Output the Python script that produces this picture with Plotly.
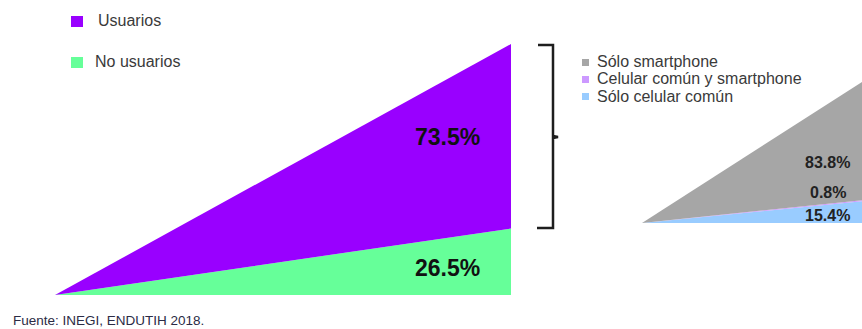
import plotly.graph_objects as go

W, H = 862, 329

# Usuarios de Internet (población de 6 años o más)
grupos = ["No usuarios", "Usuarios"]
pct_grupos = [26.5, 73.5]
colores_grupos = ["#66ff99", "#9900ff"]

# Tipo de teléfono celular entre los usuarios
tipos = ["Sólo celular común", "Celular común y smartphone", "Sólo smartphone"]
pct_tipos = [15.4, 0.8, 83.8]
colores_tipos = ["#99ccff", "#cc99ff", "#a6a6a6"]

fuente = "Fuente: INEGI, ENDUTIH 2018."

FONT = "Liberation Sans, Arial, Helvetica, sans-serif"


def px(x):
    return x / W


def py(y):
    return 1 - y / H


fig = go.Figure()

# Triángulo grande: áreas apiladas que crecen de 0 al porcentaje final
for nombre, v, c in zip(grupos, pct_grupos, colores_grupos):
    fig.add_trace(go.Scatter(
        x=[0, 1], y=[0, v], name=nombre, mode="lines",
        stackgroup="grupos", fillcolor=c, line=dict(width=0, color=c),
        xaxis="x", yaxis="y", hoverinfo="skip",
    ))

# Triángulo pequeño: desglose por tipo de celular
for nombre, v, c in zip(tipos, pct_tipos, colores_tipos):
    fig.add_trace(go.Scatter(
        x=[0, 1], y=[0, v], name=nombre, mode="lines",
        stackgroup="tipos", fillcolor=c, line=dict(width=0, color=c),
        xaxis="x2", yaxis="y2", hoverinfo="skip",
    ))

annotations = []
shapes = []

# Etiquetas de porcentaje
pos_grupos = [(0.86, 10.8), (0.86, 63)]
for v, (xa, ya) in zip(pct_grupos, pos_grupos):
    annotations.append(dict(
        x=xa, y=ya, xref="x", yref="y", text=f"<b>{v}%</b>", showarrow=False,
        font=dict(family=FONT, size=23, color="#111111"),
        xanchor="center", yanchor="middle",
    ))

pos_tipos = [(0.845, 5), (0.845, 21.3), (0.845, 43)]
for v, (xa, ya) in zip(pct_tipos, pos_tipos):
    annotations.append(dict(
        x=xa, y=ya, xref="x2", yref="y2", text=f"<b>{v}%</b>", showarrow=False,
        font=dict(family=FONT, size=16, color="#222222"),
        xanchor="center", yanchor="middle",
    ))

# Leyenda izquierda (Usuarios arriba, No usuarios abajo)
ley_izq = [(grupos[1], colores_grupos[1], 96, 21), (grupos[0], colores_grupos[0], 93, 62)]
for nombre, c, xt, yc in ley_izq:
    shapes.append(dict(
        type="rect", xref="paper", yref="paper",
        x0=px(71), x1=px(83), y0=py(yc - 5), y1=py(yc + 6),
        fillcolor=c, line=dict(width=0),
    ))
    annotations.append(dict(
        x=px(xt), y=py(yc), xref="paper", yref="paper", text=nombre,
        showarrow=False, xanchor="left", yanchor="middle",
        font=dict(family=FONT, size=16, color="#3a3a3a"),
    ))

# Leyenda derecha (orden inverso al apilado)
for i, (nombre, c) in enumerate(zip(tipos[::-1], colores_tipos[::-1])):
    yc = 62 + 17 * i
    shapes.append(dict(
        type="rect", xref="paper", yref="paper",
        x0=px(582), x1=px(589), y0=py(yc - 3), y1=py(yc + 4),
        fillcolor=c, line=dict(width=0),
    ))
    annotations.append(dict(
        x=px(595), y=py(yc), xref="paper", yref="paper", text=nombre,
        showarrow=False, xanchor="left", yanchor="middle",
        font=dict(family=FONT, size=16, color="#3a3a3a"),
    ))

# Llave que agrupa a los usuarios
llave = (
    f"M {px(538)} {py(45)} L {px(553)} {py(45)} L {px(553)} {py(136)} "
    f"L {px(558)} {py(137)} L {px(553)} {py(138)} L {px(553)} {py(228)} "
    f"L {px(537)} {py(228)}"
)
shapes.append(dict(
    type="path", xref="paper", yref="paper", path=llave,
    line=dict(color="#1e1e1e", width=2.5),
))

# Fuente
annotations.append(dict(
    x=px(11), y=py(320), xref="paper", yref="paper", text=fuente,
    showarrow=False, xanchor="left", yanchor="middle",
    font=dict(family=FONT, size=13.5, color="#2b2b45"),
))

ax_hidden = dict(visible=False, showgrid=False, zeroline=False, fixedrange=True)

fig.update_layout(
    width=W, height=H,
    margin=dict(l=0, r=0, t=0, b=0),
    paper_bgcolor="white", plot_bgcolor="rgba(0,0,0,0)",
    showlegend=False,
    xaxis=dict(domain=[px(55), px(511)], range=[0, 1], **ax_hidden),
    yaxis=dict(domain=[py(295), py(44)], range=[0, 100], **ax_hidden),
    xaxis2=dict(domain=[px(642), 1.0], range=[0, 1], anchor="y2", **ax_hidden),
    yaxis2=dict(domain=[py(223), py(82)], range=[0, 100], anchor="x2", **ax_hidden),
    annotations=annotations,
    shapes=shapes,
)

fig.write_html("out.html")
